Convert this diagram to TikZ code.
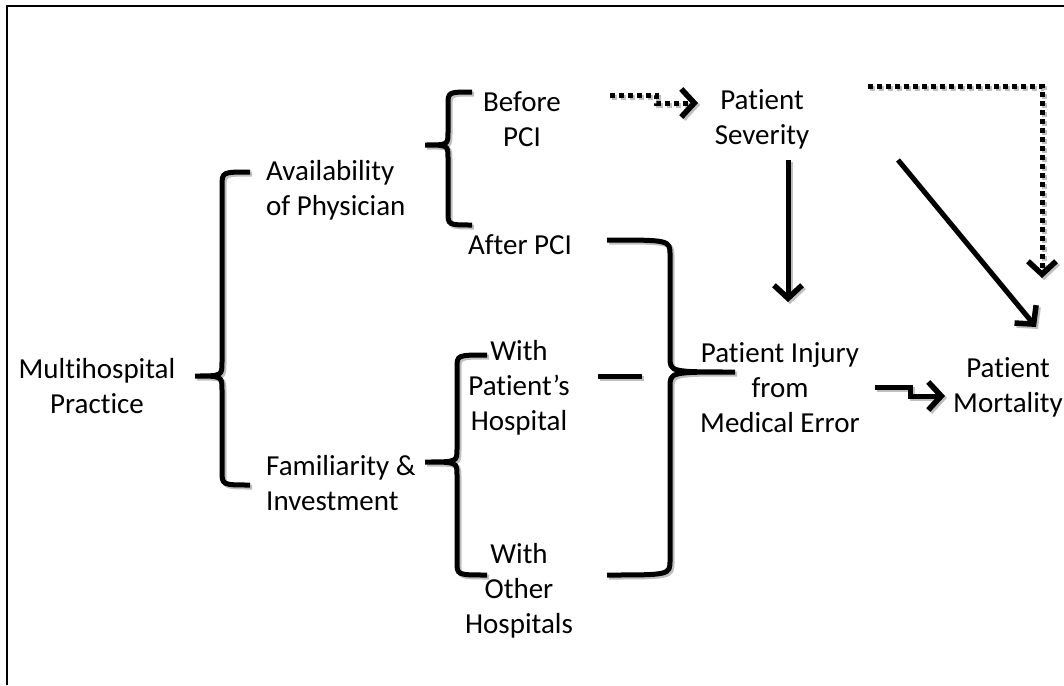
\documentclass[tikz,border=0pt]{standalone}
\usepackage{fontspec}
\setmainfont{Carlito}[Ligatures={NoCommon}]
\usetikzlibrary{arrows.meta}
\newcommand\shdraw[2]{%
  \draw[#1,draw=gray!50,transform canvas={shift={(2pt,-2pt)}}] #2;
  \draw[#1] #2;}
\begin{document}
\begin{tikzpicture}[x=1pt,y=-1pt,
  lbl/.style={align=center,inner sep=0pt,font=\fontsize{29}{35}\selectfont},
  lbll/.style={align=left,inner sep=0pt,anchor=west,font=\fontsize{29}{35}\selectfont},
  brace/.style={line width=5pt,line cap=butt},
  arr/.style={line width=5pt,-{Straight Barb[length=13pt,width=28pt,line width=5.5pt]}},
  darr/.style={line width=5pt,dash pattern=on 5pt off 4pt,-{Straight Barb[length=13pt,width=28pt,line width=5.5pt]}},
  frame/.style={line width=2.5pt}]
\useasboundingbox (0,0) rectangle (1064,685);
% frame
\coordinate (fb) at (7,685);
\coordinate (ftl) at (7,6);
\coordinate (fr) at (1064,6);
\draw[frame] (fb) -- (ftl) -- (fr);
% texts
\node[lbl] (mp) at (97,386) {Multihospital\\Practice};
\node[lbll] (av) at (266,190) {Availability\\of Physician};
\node[lbl] (bp) at (522,119) {Before\\PCI};
\node[lbl] (ap) at (520,245) {After PCI};
\node[lbl] (ps) at (762,119) {Patient\\Severity};
\node[lbll] (fi) at (266,483) {Familiarity \&\\Investment};
\node[lbl] (wp) at (519,388) {With\\Patient’s\\Hospital};
\node[lbl] (wo) at (519,591) {With\\Other\\Hospitals};
\node[lbl] (pi) at (780,388) {Patient Injury\\from\\Medical Error};
\node[lbl] (pm) at (1008,387) {Patient\\Mortality};
% braces
\shdraw{brace}{(250,172) .. controls (222,172) .. (222,186) -- (222,362) .. controls (222,376) .. (195,376)
  .. controls (222,376) .. (222,390) -- (222,471) .. controls (222,485) .. (250,485)}
\shdraw{brace}{(472,92) .. controls (448,92) .. (448,105) -- (448,132) .. controls (448,145) .. (425,145)
  .. controls (448,145) .. (448,158) -- (448,212) .. controls (448,225) .. (472,225)}
\shdraw{brace}{(487,355) .. controls (457,355) .. (457,368) -- (457,449) .. controls (457,462) .. (425,462)
  .. controls (457,462) .. (457,475) -- (457,562) .. controls (457,575) .. (487,575)}
\shdraw{brace}{(607,240) .. controls (670,240) .. (670,255) -- (670,357) .. controls (670,372) .. (735,372)
  .. controls (670,372) .. (670,387) -- (670,560) .. controls (670,575) .. (607,575)}
\coordinate (dsa) at (598,376);
\coordinate (dsb) at (642,376);
\shdraw{brace}{(dsa) -- (dsb)}
% connectors
\coordinate (d1s) at (610,95);
\coordinate (d1e) at (698,103);
\shdraw{darr}{(d1s) -- (656,95) -- (656,103) -- (d1e)}
\coordinate (v1s) at (788,160);
\coordinate (v1e) at (788,302);
\shdraw{arr}{(v1s) -- (v1e)}
\coordinate (g1s) at (898,160);
\coordinate (g1e) at (1036,327);
\shdraw{arr}{(g1s) -- (g1e)}
\coordinate (d2s) at (868,86);
\coordinate (d2e) at (1042,278);
\shdraw{darr}{(d2s) -| (d2e)}
\coordinate (e1s) at (875,387);
\coordinate (e1e) at (945,396);
\shdraw{arr}{(e1s) -- (910,387) -- (910,396) -- (e1e)}
\end{tikzpicture}
\end{document}
